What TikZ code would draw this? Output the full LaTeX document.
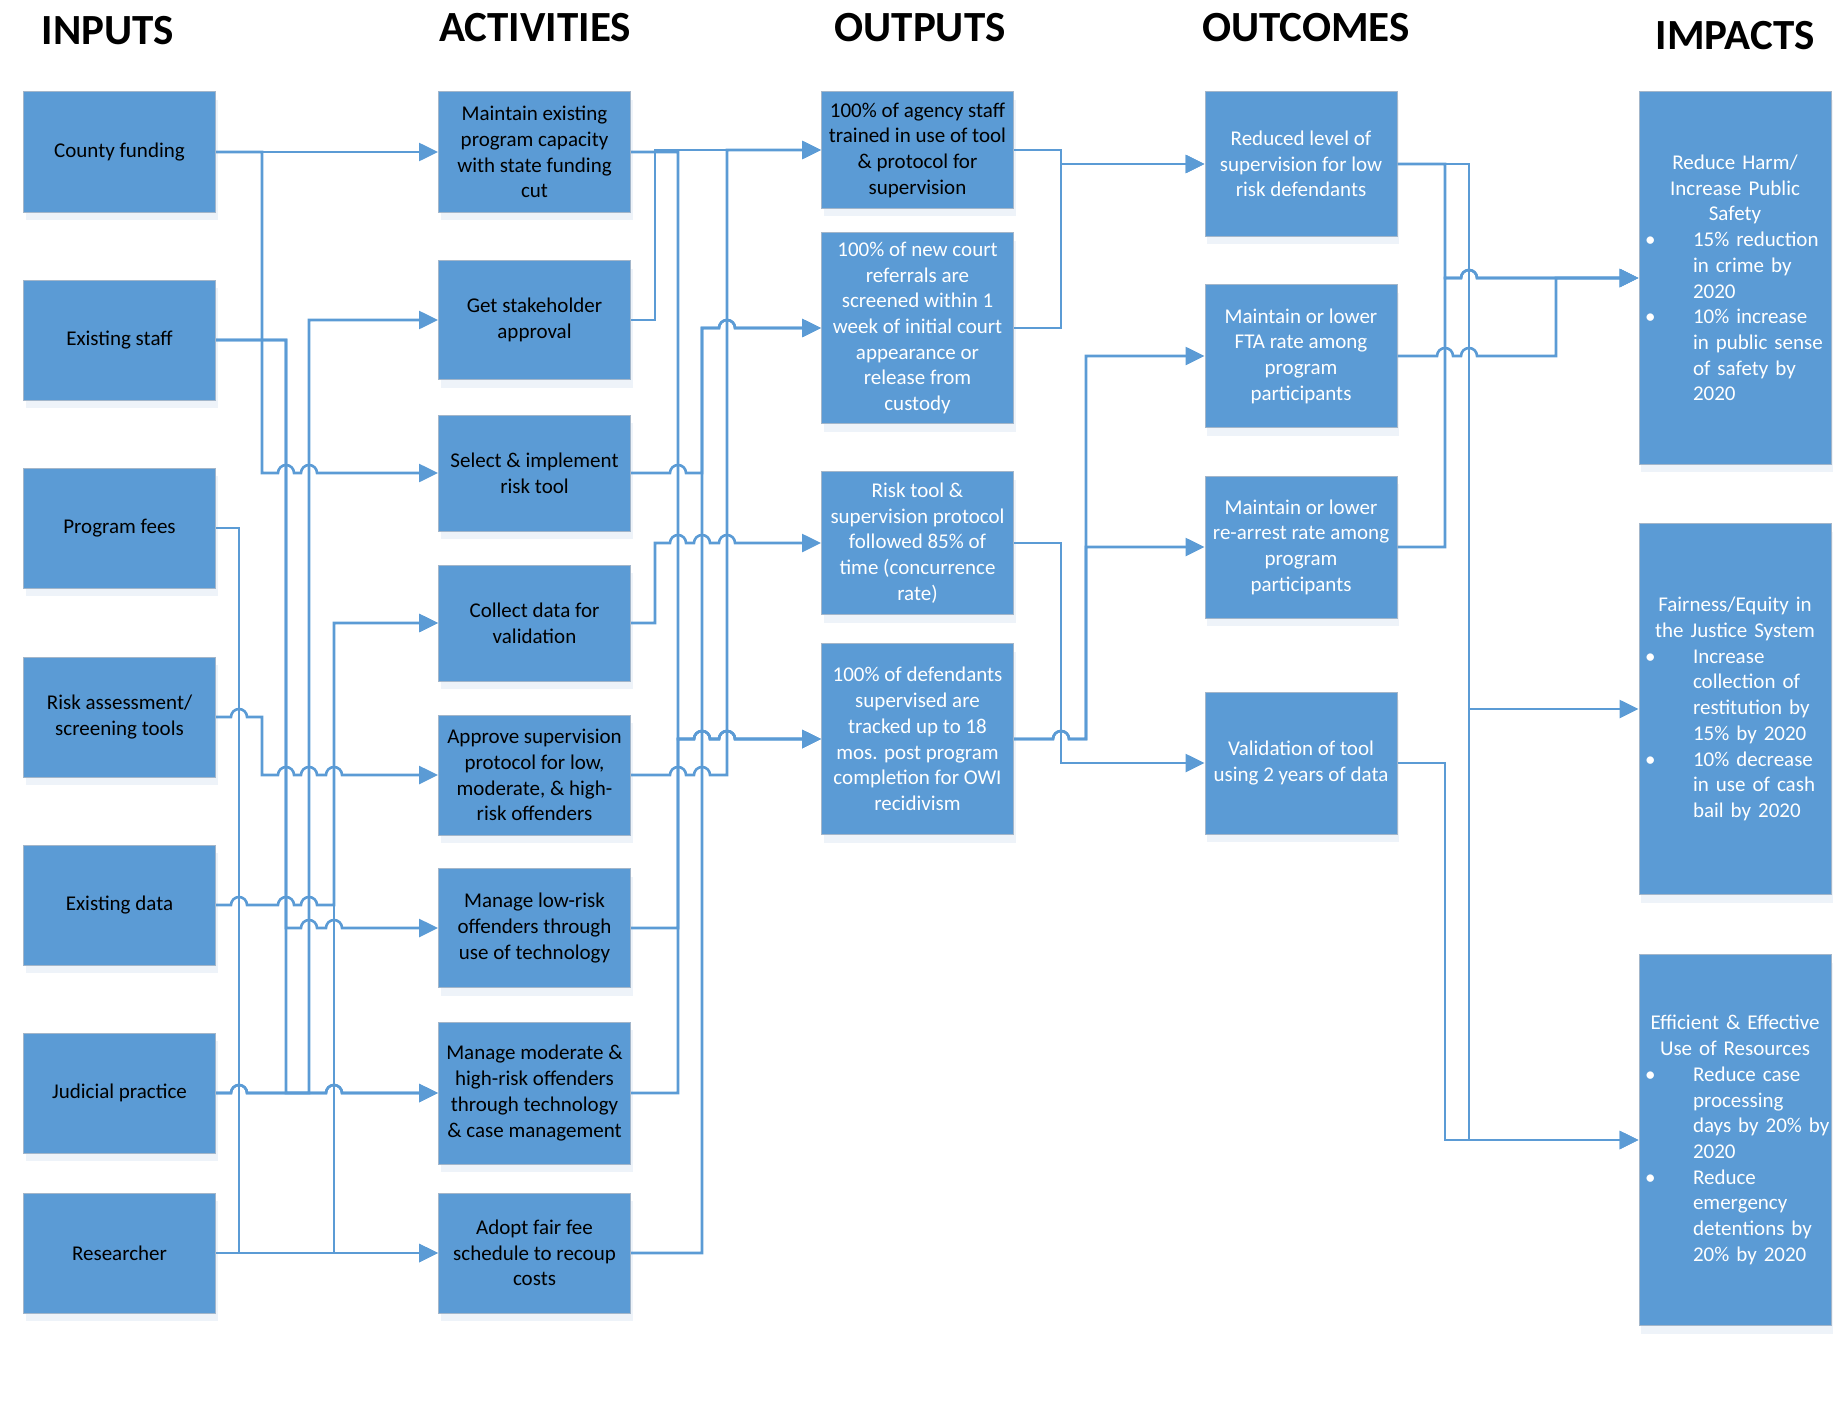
\documentclass[tikz,border=0pt]{standalone}
\usepackage{fontspec}
\setmainfont{Carlito}
\usepackage{tikz}
\usetikzlibrary{positioning, arrows.meta, calc, shadows}
\definecolor{boxblue}{HTML}{5B9BD5}
\definecolor{edgegray}{HTML}{A3B6CA}
\definecolor{shadeblue}{HTML}{EEF3F9}
\definecolor{linkblue}{HTML}{5B9BD5}

% line jump over the vertical bus #1, on the row of #2
\newcommand{\hopover}[2]{-- ($(#1 |- #2)+(-4pt,0)$) arc[start angle=180, end angle=0, radius=4pt]}
\newcommand{\impbul}{\hspace*{3pt}\makebox[24pt][l]{\textbullet}}
\newcommand{\impind}{\hspace*{27pt}}

\begin{document}
\begin{tikzpicture}[
  x=0.5pt, y=-0.5pt,
  box/.style={rectangle, draw=edgegray, line width=0.5pt, fill=boxblue, minimum width=96pt, inner sep=2pt, align=center, font=\fontsize{10.5}{12.85}\selectfont, drop shadow={shadow xshift=1pt, shadow yshift=-4pt, fill=shadeblue, opacity=1}},
  dbox/.style={box, text=black},
  wbox/.style={box, text=white},
  boxh/.style={minimum height=#1*0.5pt},
  imp/.style={wbox, text width=96pt, inner xsep=0pt, align=left, execute at begin node=\setlength{\parindent}{0pt}},
  head/.style={font=\bfseries\fontsize{21.5}{25}\selectfont},
  link/.style={draw=linkblue, line width=1.3pt},
  arr/.style={link, -{Triangle[length=9.5pt, width=9pt]}}
]
\useasboundingbox (0,0) rectangle (1834,1402);

% column headings
\node[head] (hin) at (108,31) {INPUTS};
\node[head] (hact) at (535,27.5) {ACTIVITIES};
\node[head] (hout) at (920,27.5) {OUTPUTS};
\node[head] (hoc) at (1306,27.5) {OUTCOMES};
\node[head] (himp) at (1735,35.5) {IMPACTS};

% inputs
\node[dbox, boxh=120] (county) at (119.5,152) {County funding};
\node[dbox, boxh=120] (staff) at (119.5,340) {Existing staff};
\node[dbox, boxh=120] (fees) at (119.5,528) {Program fees};
\node[dbox, boxh=120] (riskin) at (119.5,717) {Risk assessment/\\screening tools};
\node[dbox, boxh=120] (data) at (119.5,905) {Existing data};
\node[dbox, boxh=120] (judicial) at (119.5,1093) {Judicial practice};
\node[dbox, boxh=120] (research) at (119.5,1253) {Researcher};

% activities
\node[dbox, boxh=120] (maintain) at (534.5,152) {Maintain existing\\program capacity\\with state funding\\cut};
\node[dbox, boxh=119] (stakeholder) at (534.5,320) {Get stakeholder\\approval};
\node[dbox, boxh=116] (select) at (534.5,473) {Select \& implement\\risk tool};
\node[dbox, boxh=116] (collect) at (534.5,623) {Collect data for\\validation};
\node[dbox, boxh=120] (approve) at (534.5,775) {Approve supervision\\protocol for low,\\moderate, \& high-\\risk offenders};
\node[dbox, boxh=119] (managelow) at (534.5,928) {Manage low-risk\\offenders through\\use of technology};
\node[dbox, boxh=142] (managemod) at (534.5,1093) {Manage moderate \&\\high-risk offenders\\through technology\\\& case management};
\node[dbox, boxh=120] (adopt) at (534.5,1253) {Adopt fair fee\\schedule to recoup\\costs};

% outputs
\node[dbox, boxh=116] (o1) at (917.5,150) {100\% of agency staff\\trained in use of tool\\\& protocol for\\supervision};
\node[wbox, boxh=191] (o2) at (917.5,328) {100\% of new court\\referrals are\\screened within 1\\week of initial court\\appearance or\\release from\\custody};
\node[wbox, boxh=143] (o3) at (917.5,543) {Risk tool \&\\supervision protocol\\followed 85\% of\\time (concurrence\\rate)};
\node[wbox, boxh=191] (o4) at (917.5,739) {100\% of defendants\\supervised are\\tracked up to 18\\mos. post program\\completion for OWI\\recidivism};

% outcomes
\node[wbox, boxh=144] (oc1) at (1301,164) {Reduced level of\\supervision for low\\risk defendants};
\node[wbox, boxh=143] (oc2) at (1301,356) {Maintain or lower\\FTA rate among\\program\\participants};
\node[wbox, boxh=142] (oc3) at (1301,547) {Maintain or lower\\re-arrest rate among\\program\\participants};
\node[wbox, boxh=142] (oc4) at (1301,763) {Validation of tool\\using 2 years of data};

% impacts
\node[imp, boxh=372] (im1) at (1735,278) {{\centering Reduce Harm/\\Increase Public\\Safety\par}
  \impbul 15\% reduction\\\impind in crime by\\\impind 2020\\
  \impbul 10\% increase\\\impind in public sense\\\impind of safety by\\\impind 2020};
\node[imp, boxh=371] (im2) at (1735,709) {{\centering Fairness/Equity in\\the Justice System\par}
  \impbul Increase\\\impind collection of\\\impind restitution by\\\impind 15\% by 2020\\
  \impbul 10\% decrease\\\impind in use of cash\\\impind bail by 2020};
\node[imp, boxh=371] (im3) at (1735,1140) {{\centering Efficient \& Effective\\Use of Resources\par}
  \impbul Reduce case\\\impind processing\\\impind days by 20\% by\\\impind 2020\\
  \impbul Reduce\\\impind emergency\\\impind detentions by\\\impind 20\% by 2020};

% vertical buses
\coordinate (busA) at (239,0);
\coordinate (busB) at (262,0);
\coordinate (busC) at (286,0);
\coordinate (busD) at (309,0);
\coordinate (busE) at (334,0);
\coordinate (busF) at (655,0);
\coordinate (busG) at (678,0);
\coordinate (busH) at (702,0);
\coordinate (busI) at (727,0);
\coordinate (busJ) at (1061,0);
\coordinate (busK) at (1086,0);
\coordinate (busL) at (1445,0);
\coordinate (busM) at (1469,0);
\coordinate (busN) at (1556,0);

% inputs -> activities
\draw[arr] (county.east) -- (maintain.west);
\draw[arr] (county.east) -| (busB |- select.west) \hopover{busC}{select.west} \hopover{busD}{select.west} -- (select.west);
\draw[arr] (staff.east) -| (busC |- managelow.west) \hopover{busD}{managelow.west} \hopover{busE}{managelow.west} -- (managelow.west);
\draw[arr] (staff.east) -| (busC |- managemod.west) \hopover{busE}{managemod.west} -- (managemod.west);
\draw[arr] (fees.east) -| (busA |- adopt.west) -- (adopt.west);
\draw[arr] (riskin.east) \hopover{busA}{riskin.east} -| (busB |- approve.west) \hopover{busC}{approve.west} \hopover{busD}{approve.west} \hopover{busE}{approve.west} -- (approve.west);
\draw[arr] (data.east) \hopover{busA}{data.east} \hopover{busC}{data.east} \hopover{busD}{data.east} -| (busE |- collect.west) -- (collect.west);
\draw[arr] (judicial.east) \hopover{busA}{judicial.east} \hopover{busE}{judicial.east} -- (managemod.west);
\draw[arr] (judicial.east) \hopover{busA}{judicial.east} -| (busD |- stakeholder.west) -- (stakeholder.west);
\draw[arr] (research.east) -- (adopt.west);
\draw[arr] (research.east) -| (busE |- collect.west) -- (collect.west);

% activities -> outputs
\draw[arr] (stakeholder.east) -| (busF |- o1.west) -- (o1.west);
\draw[arr] (maintain.east) -| (busG |- o4.west) \hopover{busH}{o4.west} \hopover{busI}{o4.west} -- (o4.west);
\draw[arr] (managelow.east) -| (busG |- o4.west) \hopover{busH}{o4.west} \hopover{busI}{o4.west} -- (o4.west);
\draw[arr] (managemod.east) -| (busG |- o4.west) \hopover{busH}{o4.west} \hopover{busI}{o4.west} -- (o4.west);
\draw[arr] (select.east) \hopover{busG}{select.east} -| (busH |- o2.west) \hopover{busI}{o2.west} -- (o2.west);
\draw[arr] (adopt.east) -| (busH |- o2.west) \hopover{busI}{o2.west} -- (o2.west);
\draw[arr] (collect.east) -| (busF |- o3.west) \hopover{busG}{o3.west} \hopover{busH}{o3.west} \hopover{busI}{o3.west} -- (o3.west);
\draw[arr] (approve.east) \hopover{busG}{approve.east} \hopover{busH}{approve.east} -| (busI |- o1.west) -- (o1.west);

% outputs -> outcomes
\draw[arr] (o1.east) -| (busJ |- oc1.west) -- (oc1.west);
\draw[arr] (o2.east) -| (busJ |- oc1.west) -- (oc1.west);
\draw[arr] (o3.east) -| (busJ |- oc4.west) -- (oc4.west);
\draw[arr] (o4.east) \hopover{busJ}{o4.east} -| (busK |- oc2.west) -- (oc2.west);
\draw[arr] (o4.east) \hopover{busJ}{o4.east} -| (busK |- oc3.west) -- (oc3.west);

% outcomes -> impacts
\draw[arr] (oc1.east) -| (busL |- im1.west) \hopover{busM}{im1.west} -- (im1.west);
\draw[arr] (oc1.east) -| (busM |- im2.west) -- (im2.west);
\draw[arr] (oc1.east) -| (busM |- im3.west) -- (im3.west);
\draw[arr] (oc2.east) \hopover{busL}{oc2.east} \hopover{busM}{oc2.east} -| (busN |- im1.west) -- (im1.west);
\draw[arr] (oc3.east) -| (busL |- im1.west) \hopover{busM}{im1.west} -- (im1.west);
\draw[arr] (oc4.east) -| (busL |- im3.west) -- (im3.west);
\end{tikzpicture}
\end{document}
